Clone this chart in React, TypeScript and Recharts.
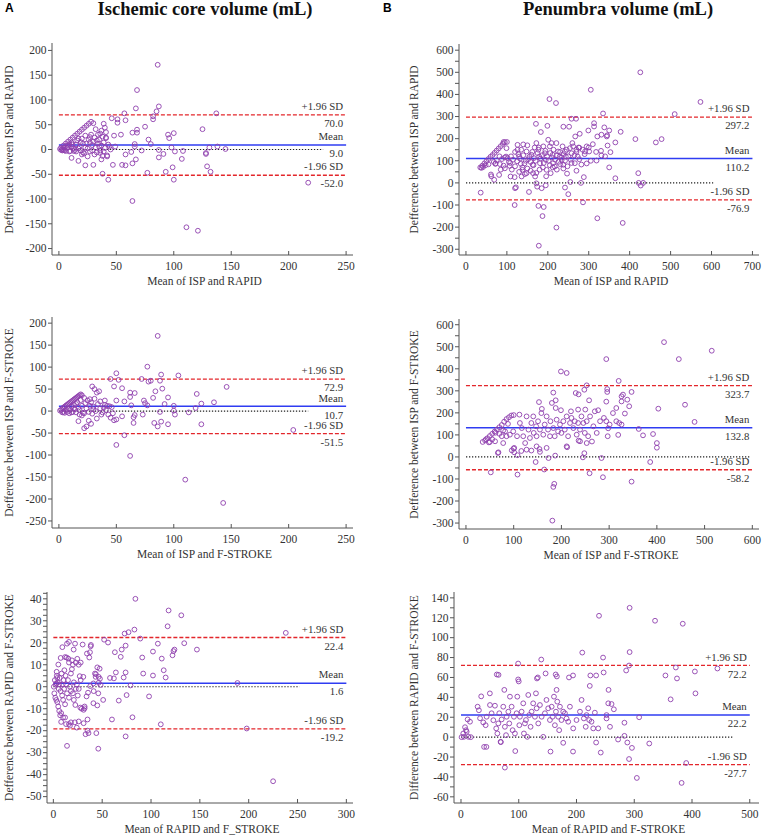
import React from 'react'
import { ScatterChart, Scatter, XAxis, YAxis, ReferenceLine } from 'recharts'

const SERIF = '"Liberation Serif", "Times New Roman", Times, serif'
const INK = '#333333'
const AXIS = '#555555'
const PURPLE = '#8e3fae'
const RED = '#e3262b'
const BLUE = '#2f3cf2'

type Pt = [number, number]

// ---- A: ischemic core volume ----
const coreIspRapid: Pt[] = [
  [86, 171], [68, 120], [87, 87], [67, 83], [85, 77], [57, 73], [137, 73], [82, 67], [82, 61], [58, 59],
  [46, 63], [51, 61], [51, 54], [28, 56], [30, 53], [125, 41], [75, 46], [68, 40], [68, 34], [64, 34],
  [54, 30], [48, 28], [39, 52], [37, 38], [41, 35], [41, 23], [34, 30], [32, 41], [95, 30], [100, 33],
  [96, 23], [78, 20], [80, 11], [66, 11], [87, -1], [98, 4], [101, -4], [108, -3], [91, -9], [87, -16],
  [107, -19], [128, -7], [128, -9], [131, 4], [138, 6], [145, 1], [129, -34], [132, -45], [99, -36], [93, -45],
  [100, -61], [77, -47], [58, -10], [58, -32], [55, -31], [47, -31], [64, -28], [67, -20], [72, -2], [63, -5],
  [66, 6], [38, -49], [43, -61], [64, -104], [111, -157], [121, -164], [217, -67], [49, 6], [42, -14], [37, -20],
  [30, -31], [23, -32], [17, -23], [11, -17], [25, -14], [20, -10],
  [1, 1], [2, 4], [3, 1], [4, 8], [5, -2], [6, 12], [7, 3], [8, 16], [9, -4], [10, 20],
  [11, 6], [12, 24], [13, -3], [14, 28], [15, 10], [16, 32], [17, 2], [18, 36], [19, 15], [20, 40],
  [21, -6], [22, 44], [24, 48], [26, 52], [8, 5], [10, -3], [12, 10], [14, -1], [16, 18], [18, 6],
  [20, 22], [22, -8], [23, 28], [24, 12], [25, 2], [26, 20], [27, -4], [28, 30], [29, 9], [30, 16],
  [31, 24], [32, 4], [33, -6], [34, 12], [35, 20], [36, -2], [37, 8], [38, 26], [39, 14], [40, 3],
  [42, -12], [43, 10], [44, 6], [45, 0], [3, -2], [5, 4], [6, -3], [7, 8], [9, 10], [11, 14],
  [13, 2], [15, -4], [17, 22], [19, -2], [21, 12], [23, 4], [27, 14], [31, -10], [33, 18], [35, 6],
  [36, 32], [39, -4], [41, 24], [40, 44], [38, -13], [36, -7], [29, -2], [27, 25], [4, -1], [2, -1],
]
const coreIspRapidLimits = [70.0, 9.0, -52.0]

const coreIspFstroke: Pt[] = [
  [86, 171], [77, 101], [50, 86], [89, 83], [104, 81], [45, 73], [72, 73], [52, 71], [78, 67], [80, 69],
  [88, 69], [146, 55], [48, 56], [55, 52], [90, 51], [84, 45], [120, 39], [62, 42], [66, 41], [62, 32],
  [95, 31], [82, 30], [135, 20], [124, 17], [92, 16], [100, 12], [74, 24], [75, 18], [77, 13], [63, 13],
  [57, 22], [50, 24], [100, 1], [101, -8], [88, -2], [113, -3], [119, 7], [73, -8], [83, -27], [86, -35],
  [89, -24], [95, -30], [124, -30], [65, -14], [66, -9], [65, -27], [55, -12], [48, -21], [50, -19], [57, -55],
  [50, -77], [62, -102], [110, -156], [143, -209], [204, -43], [33, -17], [26, -22], [22, -39], [24, -35], [17, -23],
  [29, 56], [31, 50], [33, 42], [35, 45], [27, 27], [40, 24], [42, 12], [40, 14], [44, 11], [46, 9],
  [28, -29], [43, -8], [38, -3], [30, 4], [36, 6], [45, -15], [47, -5],
  [1, 1], [2, 3], [3, 6], [4, 8], [5, 10], [6, 12], [7, 14], [8, 16], [9, 18], [10, 20],
  [11, 22], [12, 24], [13, 26], [14, 28], [15, 30], [16, 32], [17, 34], [18, 36], [19, 38], [20, 36],
  [3, -3], [5, -4], [6, 2], [7, -2], [8, 6], [9, -5], [10, 3], [11, 10], [12, -2], [13, 14],
  [14, 4], [15, -3], [16, 20], [17, 8], [18, -8], [19, 25], [20, 12], [21, -4], [22, 30], [23, 18],
  [24, 6], [25, 24], [26, -2], [27, 12], [28, 20], [29, -6], [30, 10], [31, 28], [32, 0], [34, 16],
  [36, 22], [37, -8], [39, 8], [41, 2], [20, -10], [22, -5], [18, 2], [15, 16], [13, 6], [11, -3], [4, -2],
]
const coreIspFstrokeLimits = [72.9, 10.7, -51.5]

const coreRapidFstroke: Pt[] = [
  [84, 40], [118, 34.7], [131, 32.5], [117, 27.5], [83, 26], [73, 24.2], [77, 24.8], [238, 24.5], [89, 21.9], [52, 21.4],
  [56, 20.1], [134, 19.8], [107, 19.6], [74, 18.7], [70, 16.9], [124, 16.9], [123, 16.2], [147, 16.9], [102, 16], [63, 15.7],
  [122, 14.3], [69, 13.6], [91, 13.3], [111, 12.8], [113, 7.5], [64, 6.5], [74, 6.5], [92, 6], [102, 5.1], [115, 4.2],
  [72, 4.2], [58, 4], [62, 3.8], [79, 0.6], [188.5, 1.7], [98, -4.4], [75, -3.8], [67, -6.3], [51, -6], [81, -13.9],
  [60, -14.9], [110, -17.1], [74, -22.6], [198, -19], [225, -43], [46, -28.2], [44, -21.1], [35, -20], [36, -21.1], [33, -21.6],
  [31, -16.6], [35, -14.9], [14, -26.9], [18, -16.2], [22, -16.2], [26, -15.8], [17, -17.7], [24, -18.6], [32, -9], [32, -9.8],
  [22.5, -8.3], [27.6, -9.5], [41, -7.5], [45, -8.5], [46, -3], [34, -4.4], [35.5, -2.7], [41.3, -2], [46.4, 1.8], [43.3, 4.5],
  [46.4, 4.5], [47.7, 3.6], [45, 8.8], [47.4, 8.2], [42.6, 6], [43.6, 5.7], [41, 1.5], [37.8, 0.3], [48.4, 0.8], [27, 4.8],
  [30.7, 4.5], [36.8, 13.3], [34.4, 15.1], [37.5, 15.7], [38.5, 19], [38.2, 18.4], [30, 19.2], [22.2, 19.6], [20.8, 16.9], [24.5, 12.7],
  [16, 20.4], [14, 19.6], [9.2, 18], [7.5, 13.1], [13.6, 13.3], [15.3, 12.8], [11.3, 7.5], [5.1, 10.1], [3.4, 6.8],
  [0.5, 0], [1, -3], [1.5, 3], [2, -5], [2.5, 1], [3, -6], [3.5, 5], [4, -7], [4.5, 2], [5, -9],
  [5.5, -1], [6, -11], [6.5, 4], [7, -13], [7.5, -2], [8, -12], [8.5, 6], [9, -4], [9.5, 1], [10, -6],
  [10.5, 3], [11, -1], [12, -8], [12.5, 5], [13, 1], [14, -3], [15, 3], [16, -5], [17, 0], [18, -2],
  [19, 8], [20, -3], [21, 2], [23, -1], [24, 1], [25, -4], [26, -1], [28, 3], [29, -10], [31, -10.5],
  [20, 10], [18, 6], [13, -17], [16, -17], [4, 4], [3, 1.5], [6, 1], [10, -14], [12, -14], [8, -16],
  [21, -6], [23, 11], [26, 10], [28, 11], [19, 12], [12, 13.5], [16, 11],
]
const coreRapidFstrokeLimits = [22.4, 1.6, -19.2]

// ---- B: penumbra volume ----
const penIspRapid: Pt[] = [
  [35, 70], [40, 78], [45, 88], [50, 98], [55, 108], [60, 118], [65, 126], [70, 136], [75, 146], [80, 156],
  [85, 166], [90, 176], [95, 184], [100, 185], [92, 185], [38, 68], [42, 72], [48, 80], [55, 84], [36, -44],
  [61, 38], [69, 14], [72, 86], [83, 85], [81, 36], [95, 66], [98, 119], [99, 157], [107, 77], [109, 29],
  [119, 26], [120, -24], [119, -100], [126, 172], [126, 150], [130, 119], [134, 86], [138, 59], [136, 29], [140, 174],
  [148, 142], [152, 107], [148, 44], [154, -41], [160, 127], [163, 82], [164, 44], [169, 29], [171, 267], [168, 160],
  [172, 180], [177, 150], [179, 119], [181, 89], [183, 230], [185, -24], [172, -2], [174, -17], [189, 165], [193, 134],
  [195, 104], [197, 59], [195, -11], [201, 195], [205, 165], [209, 180], [212, 127], [213, 89], [207, 44], [217, 74],
  [221, 180], [225, 142], [229, 119], [234, 104], [236, 165], [238, 82], [242, 142], [242, -21], [244, 119], [247, 42],
  [250, -51], [254, 157], [255, 4], [258, 290], [258, 134], [262, 165], [266, 89], [269, 290], [270, 150], [273, 119],
  [267, 210], [278, 222], [277, 159], [277, 107], [281, 0], [282, 83], [286, -88], [288, 26], [291, 142], [295, 88],
  [295, 165], [299, 237], [301, 142], [305, 421], [313, 270], [313, 255], [319, 101], [321, -160], [321, 210], [330, 145],
  [331, 218], [331, 124], [335, 314], [338, 251], [344, 210], [346, 169], [350, 237], [350, 70], [353, 139], [365, 183],
  [365, 21], [378, 231], [383, -181], [414, 198], [421, 44], [422, 0], [426, 500], [427, -12], [433, 0], [464, 183],
  [478, 198], [510, 311], [573, 366], [204, 379], [220, 361], [199, 258], [238, 254], [252, 254], [221, -202], [187, -150],
  [190, -109], [177, -104], [178, -284], [122, -20],
  [105, 95], [110, 120], [115, 105], [120, 140], [125, 98], [128, 130], [132, 110], [135, 150], [140, 125], [143, 88],
  [146, 100], [150, 170], [155, 118], [158, 95], [162, 140], [166, 112], [170, 100], [175, 135], [178, 160], [182, 110],
  [186, 125], [190, 90], [194, 145], [198, 120], [202, 100], [206, 135], [210, 115], [214, 150], [218, 105], [222, 125],
  [226, 95], [230, 140], [234, 115], [238, 130], [242, 100], [246, 150], [250, 120], [256, 105], [260, 180], [265, 125],
  [270, 140], [275, 160], [285, 150], [290, 130], [300, 160], [305, 100], [310, 175], [318, 140], [340, 120], [345, 215],
  [112, 60], [120, 75], [130, 50], [138, 70], [144, 40], [150, 65], [158, 55], [165, 80], [172, 45], [180, 60],
  [188, 70], [196, 30], [205, 80], [212, 70], [222, 60], [230, 85], [238, 65], [248, 75], [258, 90], [270, 55],
  [68, 95], [75, 102], [82, 120], [88, 108], [95, 115], [102, 112], [108, 90], [62, 30], [72, 88], [85, 60], [92, 78],
]
const penIspRapidLimits = [297.2, 110.2, -76.9]

const penIspFstroke: Pt[] = [
  [35, 68], [40, 75], [45, 85], [50, 95], [55, 105], [60, 115], [65, 125], [70, 135], [75, 145], [80, 160],
  [85, 172], [90, 180], [95, 188], [100, 190], [42, 80], [48, 66], [55, 80], [62, 110], [70, 105], [78, 120], [88, 150],
  [415, 521], [515, 482], [446, 444], [294, 444], [199, 388], [211, 381], [320, 345], [253, 325], [248, 305], [296, 308],
  [296, 295], [183, 292], [230, 290], [236, 284], [326, 275], [347, 295], [258, 257], [188, 257], [294, 251], [153, 249],
  [326, 252], [338, 260], [342, 230], [459, 237], [159, 218], [199, 212], [220, 207], [235, 215], [250, 215], [277, 212],
  [315, 222], [333, 197], [403, 219], [188, 222], [180, 245], [479, 159], [362, 127], [371, 98], [392, 104], [400, 63],
  [400, 42], [298, 130], [297, 94], [319, 100], [386, -23], [347, -112], [287, -92], [284, -5], [259, -74], [248, 17],
  [245, -2], [187, 6], [173, -5], [164, -57], [185, -122], [183, -136], [181, -289], [108, -80], [146, -23], [52, -70],
  [67, 18], [100, 38], [101, 21], [108, 8], [116, 27], [154, 36], [155, 23], [212, 44], [264, 70], [236, 74],
  [50, 68], [61, 71], [68, 21], [75, 94], [78, 63], [82, 116], [85, 94], [92, 101], [99, 116], [101, 41],
  [107, 94], [112, 192], [113, 154], [117, 131], [120, 94], [124, 63], [127, 184], [131, 124], [134, 86], [137, 154],
  [141, 184], [142, 109], [147, 139], [148, 94], [151, 162], [155, 124], [158, 199], [162, 101], [165, 147], [169, 184],
  [172, 124], [176, 94], [177, 162], [183, 131], [186, 94], [190, 169], [193, 116], [197, 147], [200, 109], [204, 162],
  [207, 124], [211, 184], [214, 94], [218, 154], [221, 177], [225, 131], [228, 162], [232, 101], [235, 154], [239, 124],
  [242, 184], [246, 154], [249, 109], [253, 162], [256, 94], [260, 184], [267, 139], [270, 207], [274, 109], [281, 162],
  [289, 177], [294, 162], [301, 147], [308, 199], [315, 162], [321, 154], [326, 147], [329, 283],
  [96, 30], [127, 33], [137, 29], [148, 48], [169, 41], [211, 48], [239, 71], [253, 63],
]
const penIspFstrokeLimits = [323.7, 132.8, -58.2]

const penRapidFstroke: Pt[] = [
  [292, 130], [239, 122], [336, 117], [384, 114], [210, 85], [292, 85.5], [246, 80], [139, 78], [99, 74], [291, 72],
  [372, 70], [444, 69], [286, 67], [405, 66], [247, 65], [354, 62], [374, 59], [62, 63], [65, 62.6], [99, 58],
  [100, 56], [131.5, 59], [133, 60], [146.5, 64], [164, 63], [166, 61], [187, 60], [194, 62], [224, 62], [234, 62],
  [223, 51.5], [255.5, 47.5], [406, 44], [363, 38], [308.5, 20], [283, 14.5], [283, 1.3], [288, -5.4], [296, -10.8], [326, -6.4],
  [291, -22], [304.5, -41], [382, -46], [390, -26], [76, -30.6], [40, -9.8], [44, -9.8], [94, -14], [155, -14.5], [194, -14.5],
  [242, -15.5], [234, -5.4], [272, -2.4], [177, -5.7], [69, -5], [35, 41], [50, 44], [75, 47.5],
  [1, 0], [4, 3.7], [7, 10], [8.7, 7], [11.5, 17.8], [15.6, 15.5], [12.7, 0.3], [17, 0], [5, 0.3], [9.8, 5.4],
  [28.8, 30.6], [31, 27], [33, 19], [38.6, 14.8], [42.7, 12], [44.4, 20.5], [50.2, 32.3], [53, 24], [56, 17], [58.8, 31.6],
  [61, 8.8], [63, 3.7], [64.6, 13.8], [66.3, 24], [68.6, -4.7], [70.4, 17.8], [73.2, 30.6], [76, 10.4], [78, 2], [79, 20.5],
  [82, 25.6], [83.6, 13.8], [84.8, 40.7], [87.7, 30.6], [89.4, 7], [91.7, 20.5], [93.4, 3.7], [96.3, 24], [97.5, 40.7], [101, 12],
  [102, 20.5], [105, 25.6], [107.8, 34], [109, 3.7], [110.7, 13.8], [112.5, 17.2], [114.8, 0.3], [116.5, 42.4], [118.2, 22.2], [120.5, 10.4],
  [122.3, 25.6], [125, 34], [128, 20.5], [129.8, 44], [131, 29], [133.8, 13.8], [136.7, 32.3], [139.6, 20.5], [142.4, 0.3], [145.3, 24],
  [148, 37.4], [151, 29], [154, 17.2], [157, 30.6], [158.6, 20.5], [161, 40.7], [162.6, 12], [164.4, 25.6], [165.5, 47.5], [166.7, 35.7],
  [168.4, 20.5], [170, 7], [171.3, 30.6], [174, 17.2], [177, 25.6], [180, 24], [182.8, 18.8], [185.7, 15.5], [188.6, 30.6], [194.3, 8.8],
  [200, 17.2], [206, 25.6], [208.8, 37.4], [212.8, 18.8], [216, 10.4], [217.4, 22.2], [220.3, 29], [222, 17.2], [226, 15.5], [229, 8.8],
  [231.8, 24.6], [237.6, 8.8], [252, 18.8], [258, 10.4], [255, 34], [260.7, 33.3], [264.7, 28], [252, 22.2],
]
const penRapidFstrokeLimits = [72.2, 22.2, -27.7]

// axes
const coreX250 = [0, 50, 100, 150, 200, 250]
const coreX300 = [0, 50, 100, 150, 200, 250, 300]
const penX700 = [0, 100, 200, 300, 400, 500, 600, 700]
const penX600 = [0, 100, 200, 300, 400, 500, 600]
const penX500 = [0, 100, 200, 300, 400, 500]
const yA1 = [-200, -150, -100, -50, 0, 50, 100, 150, 200]
const yA2 = [-250, -200, -150, -100, -50, 0, 50, 100, 150, 200]
const yA3 = [-50, -40, -30, -20, -10, 0, 10, 20, 30, 40]
const yA3minor = [-47.5, -45, -42.5, -37.5, -35, -32.5, -27.5, -25, -22.5, -17.5, -15, -12.5, -7.5, -5, -2.5,
  2.5, 5, 7.5, 12.5, 15, 17.5, 22.5, 25, 27.5, 32.5, 35, 37.5, 42.5]
const yB12 = [-300, -200, -100, 0, 100, 200, 300, 400, 500, 600]
const yB12minor = [-250, -150, -50, 50, 150, 250, 350, 450, 550]
const yB3 = [-60, -40, -20, 0, 20, 40, 60, 80, 100, 120, 140]
const yB3minor = [-50, -30, -10, 10, 30, 50, 70, 90, 110, 130]

type Box = { left: number; top: number; width: number; height: number }

interface PanelProps {
  box: Box
  points: Pt[]
  limits: number[]
  xDomain: number[]
  xTicks: number[]
  yDomain: number[]
  yTicks: number[]
  yMinor: number[]
  zeroEnd: number
  xLabel: string
  yLabel: string
  yLabelX: number
}

const YTick = (p: any) => {
  const major = p.majors.includes(p.payload.value)
  return (
    <g>
      <line x1={p.x - 4} x2={p.x} y1={p.y} y2={p.y} stroke={AXIS} strokeWidth={1} />
      {major && (
        <text x={p.x - 5.5} y={p.y + 3.8} textAnchor="end" fontSize={11.5} fill={INK} fontFamily={SERIF}>
          {p.payload.value}
        </text>
      )}
    </g>
  )
}

const XTick = (p: any) => (
  <g>
    <line x1={p.x} x2={p.x} y1={p.y} y2={p.y - 4} stroke={AXIS} strokeWidth={1} />
    <text x={p.x} y={p.y + 14.5} textAnchor="middle" fontSize={11.5} fill={INK} fontFamily={SERIF}>
      {p.payload.value}
    </text>
  </g>
)

// text above and below the right end of a limit line
const lineLabel = (above: string, below: string) => (props: any) => {
  const vb = props.viewBox || { x: 0, y: 0, width: 0 }
  const xr = vb.x + vb.width - 3
  return (
    <g fontFamily={SERIF} fontSize={10.8} fill={INK}>
      <text x={xr} y={vb.y - 4.8} textAnchor="end">{above}</text>
      <text x={xr} y={vb.y + 12.2} textAnchor="end">{below}</text>
    </g>
  )
}

const circle = (p: any) => (
  <circle cx={p.cx} cy={p.cy} r={2.4} fill="none" stroke={PURPLE} strokeWidth={0.9} />
)

const Panel: React.FC<PanelProps> = (props) => {
  const { box, points, limits, xDomain, xTicks, yDomain, yTicks, yMinor } = props
  const rows = points.map(([x, y]) => ({ x, y }))
  const allY = [...yTicks, ...yMinor].sort((a, b) => a - b)
  const xEnd = xTicks[xTicks.length - 1]
  const [upper, mean, lower] = limits
  const yAxisW = 50
  const mTop = 5
  const xAxisH = 40
  const cy = box.top + box.height / 2
  return (
    <>
      <div style={{ position: 'absolute', left: box.left - yAxisW, top: box.top - mTop }}>
        <ScatterChart
          width={box.width + yAxisW + 10}
          height={box.height + mTop + xAxisH}
          margin={{ top: mTop, right: 10, left: 0, bottom: 0 }}
        >
          <XAxis
            type="number"
            dataKey="x"
            domain={xDomain}
            ticks={xTicks}
            interval={0}
            allowDataOverflow
            axisLine={{ stroke: AXIS }}
            tickLine={false}
            tickSize={0}
            tickMargin={0}
            height={xAxisH}
            tick={(p: any) => <XTick {...p} />}
          />
          <YAxis
            type="number"
            dataKey="y"
            domain={yDomain}
            ticks={allY}
            interval={0}
            allowDataOverflow
            axisLine={{ stroke: AXIS }}
            tickLine={false}
            tickSize={0}
            tickMargin={0}
            width={yAxisW}
            tick={(p: any) => <YTick {...p} majors={yTicks} />}
          />
          <ReferenceLine
            segment={[{ x: 0, y: 0 }, { x: props.zeroEnd, y: 0 }]}
            stroke="#222"
            strokeWidth={1.2}
            strokeDasharray="1.3 1.7"
          />
          <ReferenceLine
            segment={[{ x: 0, y: upper }, { x: xEnd, y: upper }]}
            stroke={RED}
            strokeWidth={1.3}
            strokeDasharray="4 2"
            label={lineLabel('+1.96 SD', upper.toFixed(1))}
          />
          <ReferenceLine
            segment={[{ x: 0, y: mean }, { x: xEnd, y: mean }]}
            stroke={BLUE}
            strokeWidth={1.5}
            label={lineLabel('Mean', mean.toFixed(1))}
          />
          <ReferenceLine
            segment={[{ x: 0, y: lower }, { x: xEnd, y: lower }]}
            stroke={RED}
            strokeWidth={1.3}
            strokeDasharray="4 2"
            label={lineLabel('-1.96 SD', lower.toFixed(1))}
          />
          <Scatter data={rows} isAnimationActive={false} shape={circle} />
        </ScatterChart>
      </div>
      <div
        style={{
          position: 'absolute',
          left: box.left + box.width / 2 + 2 - 150,
          top: box.top + box.height + 19,
          width: 300,
          textAlign: 'center',
          fontSize: 11.5,
          lineHeight: '15px',
          color: INK,
          whiteSpace: 'nowrap',
        }}
      >
        {props.xLabel}
      </div>
      <div
        style={{
          position: 'absolute',
          left: props.yLabelX - 150,
          top: cy - 7.5,
          width: 300,
          height: 15,
          textAlign: 'center',
          fontSize: 11.5,
          lineHeight: '15px',
          color: INK,
          whiteSpace: 'nowrap',
          transform: 'rotate(-90deg)',
          transformOrigin: '50% 50%',
        }}
      >
        {props.yLabel}
      </div>
    </>
  )
}

export default function App() {
  return (
    <div
      style={{
        position: 'absolute',
        left: 0,
        top: 0,
        width: 763,
        height: 838,
        background: '#fff',
        fontFamily: SERIF,
        overflow: 'hidden',
      }}
    >
      <div style={{ position: 'absolute', left: 5, top: 1, fontFamily: '"Liberation Sans", Arial, sans-serif', fontWeight: 700, fontSize: 12 }}>A</div>
      <div style={{ position: 'absolute', left: 383, top: 1, fontFamily: '"Liberation Sans", Arial, sans-serif', fontWeight: 700, fontSize: 12 }}>B</div>
      <div style={{ position: 'absolute', left: 55, width: 300, top: -1, textAlign: 'center', fontWeight: 700, fontSize: 18.5, color: '#111' }}>
        Ischemic core volume (mL)
      </div>
      <div style={{ position: 'absolute', left: 468, width: 300, top: -1, textAlign: 'center', fontWeight: 700, fontSize: 18.5, color: '#111' }}>
        Penumbra volume (mL)
      </div>

      <Panel
        box={{ left: 52, top: 43, width: 301, height: 212 }}
        points={coreIspRapid}
        limits={coreIspRapidLimits}
        xDomain={[-6, 256]}
        xTicks={coreX250}
        yDomain={[-213, 215]}
        yTicks={yA1}
        yMinor={[]}
        zeroEnd={230}
        xLabel="Mean of ISP and RAPID"
        yLabel="Defference between ISP and RAPID"
        yLabelX={9}
      />
      <Panel
        box={{ left: 459, top: 44, width: 300, height: 211 }}
        points={penIspRapid}
        limits={penIspRapidLimits}
        xDomain={[-17, 716]}
        xTicks={penX700}
        yDomain={[-326, 628]}
        yTicks={yB12}
        yMinor={yB12minor}
        zeroEnd={604}
        xLabel="Mean of ISP and RAPID"
        yLabel="Defference between ISP and RAPID"
        yLabelX={414}
      />
      <Panel
        box={{ left: 52, top: 317, width: 301, height: 211 }}
        points={coreIspFstroke}
        limits={coreIspFstrokeLimits}
        xDomain={[-6, 256]}
        xTicks={coreX250}
        yDomain={[-266, 214]}
        yTicks={yA2}
        yMinor={[]}
        zeroEnd={217}
        xLabel="Mean of ISP and F-STROKE"
        yLabel="Defference between ISP and F-STROKE"
        yLabelX={9}
      />
      <Panel
        box={{ left: 459, top: 319, width: 300, height: 210 }}
        points={penIspFstroke}
        limits={penIspFstrokeLimits}
        xDomain={[-14.6, 614]}
        xTicks={penX600}
        yDomain={[-327, 626]}
        yTicks={yB12}
        yMinor={yB12minor}
        zeroEnd={596}
        xLabel="Mean of ISP and F-STROKE"
        yLabel="Defference between ISP and F-STROKE"
        yLabelX={414}
      />
      <Panel
        box={{ left: 47, top: 592, width: 306, height: 211 }}
        points={coreRapidFstroke}
        limits={coreRapidFstrokeLimits}
        xDomain={[-6.5, 306.8]}
        xTicks={coreX300}
        yDomain={[-52.9, 43.1]}
        yTicks={yA3}
        yMinor={yA3minor}
        zeroEnd={252}
        xLabel="Mean of RAPID and F_STROKE"
        yLabel="Defference between RAPID and F-STROKE"
        yLabelX={9}
      />
      <Panel
        box={{ left: 454, top: 592, width: 305, height: 211 }}
        points={penRapidFstroke}
        limits={penRapidFstrokeLimits}
        xDomain={[-12.1, 516]}
        xTicks={penX500}
        yDomain={[-66.2, 145.9]}
        yTicks={yB3}
        yMinor={yB3minor}
        zeroEnd={471}
        xLabel="Mean of RAPID and F-STROKE"
        yLabel="Difference between RAPID and F-STROKE"
        yLabelX={414}
      />
    </div>
  )
}
